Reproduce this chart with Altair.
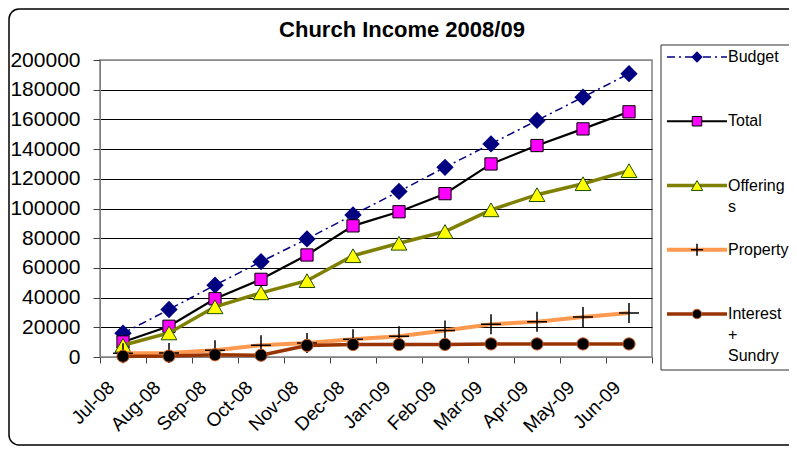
import altair as alt
import pandas as pd

# ---------------- data ----------------
months = ["Jul-08", "Aug-08", "Sep-08", "Oct-08", "Nov-08", "Dec-08",
          "Jan-09", "Feb-09", "Mar-09", "Apr-09", "May-09", "Jun-09"]
series_names = ["Budget", "Total", "Offerings", "Property", "Interest + Sundry"]
legend_labels = ["Budget", "Total", "Offering\ns", "Property", "Interest\n+\nSundry"]
budget = [16000, 32000, 48400, 64200, 79500, 95700, 111500, 127700, 143500, 159300, 175000, 190800]
total = [10100, 20700, 39200, 52300, 68700, 88300, 97800, 110000, 130000, 142400, 153600, 165100]
offerings = [7900, 16200, 33800, 43200, 51400, 68200, 76600, 84500, 99100, 109300, 116700, 125500]
property_ = [2500, 2700, 4500, 7900, 9500, 11900, 14000, 17800, 22100, 23700, 27000, 29700]
interest = [500, 600, 1500, 1200, 7800, 8400, 8400, 8500, 8800, 8800, 8800, 8800]
y_ticks = list(range(0, 200001, 20000))
title_text = "Church Income 2008/09"

values = dict(zip(series_names, [budget, total, offerings, property_, interest]))

rows = []
for name in series_names:
    for i, (m, v) in enumerate(zip(months, values[name])):
        rows.append({"series": name, "idx": i, "month": m, "value": v})
df = pd.DataFrame(rows)

# ---------------- styles ----------------
FONT = "Liberation Sans"
styles = {
    "Budget": dict(line=dict(color="#000080", strokeWidth=1.5, strokeDash=[8, 4, 2, 4]),
                   point=dict(shape="diamond", color="#000080", filled=True, size=300,
                              strokeWidth=0, opacity=1),
                   lsize=130),
    "Total": dict(line=dict(color="#000000", strokeWidth=2.2),
                  point=dict(shape="square", fill="#FF00FF", stroke="#000000", strokeWidth=1,
                             filled=True, size=150, opacity=1),
                  lsize=90),
    "Offerings": dict(line=dict(color="#808000", strokeWidth=3.5),
                      point=dict(shape="triangle-up", fill="#FFFF00", stroke="#1F4A00", strokeWidth=1,
                                 filled=True, size=250, opacity=1),
                      lsize=130),
    "Property": dict(line=dict(color="#FF9950", strokeWidth=4),
                     point=dict(shape="M-1,0L1,0M0,-1L0,1", color="#000000", filled=False,
                                strokeWidth=1.5, size=400, opacity=1),
                     lsize=150),
    "Interest + Sundry": dict(line=dict(color="#993300", strokeWidth=3.5),
                              point=dict(shape="circle", fill="#000000", stroke="#C85A20", strokeWidth=1,
                                         filled=True, size=150, opacity=1),
                              lsize=90),
}

W, H = 552, 297
n = len(months)
label_array = "[" + ",".join("'%s'" % m for m in months) + "]"

xscale = alt.Scale(domain=[-0.5, n - 0.5], nice=False, zero=False)
yscale = alt.Scale(domain=[0, 200000], nice=False)

x_axis = alt.Axis(values=[i - 0.5 for i in range(n + 1)],
                  labelExpr=label_array + "[round(datum.value + 0.5)] || ''",
                  labelOffset=11, labelAngle=-45, labelAlign="right", labelBaseline="middle",
                  tickSize=6, labelPadding=21, labelFontSize=19, labelFont=FONT,
                  labelColor="black", grid=False, domainColor="#808080", tickColor="#404040",
                  title=None, labelOverlap=False, labelFlush=False, labelBound=False)
y_axis = alt.Axis(values=y_ticks, format="d", tickSize=7, labelPadding=13, labelFontSize=21,
                  labelFont=FONT, labelColor="black", domainColor="#808080", tickColor="#404040",
                  grid=True,
                  gridColor={"condition": {"test": "datum.value == 0 || datum.value >= 200000",
                                           "value": "#909090"}, "value": "#000000"},
                  gridWidth=1, title=None, labelFlush=False)

data_layers = []
for name in series_names:
    st = styles[name]
    sub = df[df.series == name]
    xenc = alt.X("idx:Q", scale=xscale, axis=x_axis)
    yenc = alt.Y("value:Q", scale=yscale, axis=y_axis)
    line = alt.Chart(sub).mark_line(**st["line"]).encode(x=xenc, y=yenc)
    pts = alt.Chart(sub).mark_point(**st["point"]).encode(x=xenc, y=yenc)
    data_layers += [line, pts]

plot = alt.layer(*data_layers)

# ---------------- legend (drawn through its own scales) ----------------
one = pd.DataFrame({"a": [0]})
outer = alt.Chart(one).mark_rect(fillOpacity=0, stroke="#000000", strokeWidth=1.5,
                                 cornerRadius=10).encode(
    x=alt.value(-91), x2=alt.value(720), y=alt.value(-51), y2=alt.value(385))
legend_box = alt.Chart(one).mark_rect(fillOpacity=0, stroke="#303030", strokeWidth=1).encode(
    x=alt.value(561), x2=alt.value(720), y=alt.value(-15), y2=alt.value(310))
title = alt.Chart(one).mark_text(text=title_text, font=FONT, fontSize=22, fontWeight="bold",
                                 baseline="alphabetic", align="center").encode(
    x=alt.value(302), y=alt.value(-23))

lx = alt.Scale(domain=[0, 1], range=[567, 627])
ly = alt.Scale(type="point", domain=series_names, range=[-3, 254], padding=0)

legend_layers = [outer, legend_box, title]
for name, lab in zip(series_names, legend_labels):
    st = styles[name]
    seg = pd.DataFrame({"series": [name, name], "lx": [0, 1]})
    mk = pd.DataFrame({"series": [name], "lx": [0.5]})
    tx = pd.DataFrame({"series": [name], "lx": [1], "label": [lab]})
    legend_layers.append(alt.Chart(seg).mark_line(**st["line"]).encode(
        x=alt.X("lx:Q", scale=lx, axis=None), y=alt.Y("series:N", scale=ly, axis=None)))
    pst = dict(st["point"])
    pst["size"] = st["lsize"]
    legend_layers.append(alt.Chart(mk).mark_point(**pst).encode(
        x=alt.X("lx:Q", scale=lx, axis=None), y=alt.Y("series:N", scale=ly, axis=None)))
    legend_layers.append(alt.Chart(tx).mark_text(align="left", baseline="top", dx=1, dy=-8,
                                                 font=FONT, fontSize=16, lineHeight=21,
                                                 lineBreak="\n", color="black").encode(
        x=alt.X("lx:Q", scale=lx, axis=None), y=alt.Y("series:N", scale=ly, axis=None),
        text="label:N"))

legend = alt.layer(*legend_layers)

chart = alt.layer(plot, legend).resolve_scale(x="independent", y="independent").properties(
    width=W, height=H,
    autosize=alt.AutoSizeParams(type="none"),
    padding={"left": 92, "top": 52, "right": 137, "bottom": 90},
    background="white",
).configure_view(stroke="#808080", strokeWidth=1.5)

chart.save("out.html", embed_options={"renderer": "svg", "actions": False})
